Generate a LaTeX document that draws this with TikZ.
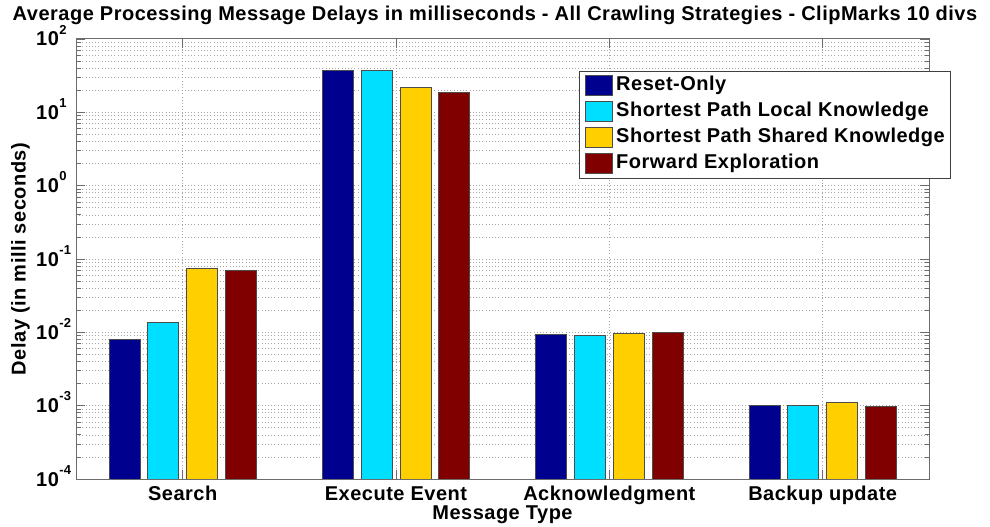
\documentclass[tikz,border=0pt]{standalone}
\usepackage{fontspec}
\setmainfont{Liberation Sans}[LetterSpace=2.5]
\definecolor{cA}{RGB}{0,0,143}
\definecolor{cB}{RGB}{0,223,255}
\definecolor{cC}{RGB}{255,207,0}
\definecolor{cD}{RGB}{128,0,0}
\begin{document}
\begin{tikzpicture}[x=1pt,y=-1pt,
  every node/.style={inner sep=0pt, font=\bfseries\fontsize{20}{24}\selectfont},
  gridline/.style={draw=gray!70, line width=0.6pt, dash pattern=on 1pt off 2.2pt},
  axisline/.style={draw=gray!85!black, line width=1pt},
  tickline/.style={draw=gray!85!black, line width=0.8pt},
  barbox/.style={draw=black!70, line width=0.8pt},
  expo/.style={font=\bfseries\fontsize{13}{13}\selectfont}]
\useasboundingbox (0,0) rectangle (990,527);
\fill[white] (0,0) rectangle (990,527);
% horizontal grid
\foreach \d in {0,...,5}{
  \foreach \k in {2,...,9}{
    \pgfmathsetmacro\yy{479-(\d+log10(\k))*73.3333}
    \draw[gridline] (76,\yy) -- (929,\yy);
  }
}
\foreach \d in {1,...,5}{
  \pgfmathsetmacro\yy{479-\d*73.3333}
  \draw[gridline] (76,\yy) -- (929,\yy);
}
% vertical grid
\foreach \c in {182.67,396,609.33,822.67}
  \draw[gridline] (\c,39) -- (\c,479);
% bars
\foreach \c/\ta/\tb/\tc/\td in {182.67/339.3/322.3/268/270, 396/70.7/70.7/87.3/92, 609.33/334/335.7/333.3/332.3, 822.67/405/405/402/406}{
  \draw[barbox, fill=cA] (\c-73.7,479) rectangle (\c-42.7,\ta);
  \draw[barbox, fill=cB] (\c-34.9,479) rectangle (\c-3.9,\tb);
  \draw[barbox, fill=cC] (\c+3.9,479) rectangle (\c+34.9,\tc);
  \draw[barbox, fill=cD] (\c+42.7,479) rectangle (\c+73.7,\td);
}
% axis box
\draw[axisline] (76,39) rectangle (929,479);
% y ticks
\foreach \d in {0,...,6}{
  \pgfmathsetmacro\yy{479-\d*73.3333}
  \draw[tickline] (76,\yy) -- (85,\yy);
  \draw[tickline] (929,\yy) -- (920,\yy);
}
\foreach \d in {0,...,5}{
  \foreach \k in {2,...,9}{
    \pgfmathsetmacro\yy{479-(\d+log10(\k))*73.3333}
    \draw[tickline] (76,\yy) -- (80.5,\yy);
    \draw[tickline] (929,\yy) -- (924.5,\yy);
  }
}
% x ticks
\foreach \c in {182.67,396,609.33,822.67}{
  \draw[tickline] (\c,479) -- (\c,470);
  \draw[tickline] (\c,39) -- (\c,48);
}
% y tick labels
\foreach \e [count=\i from 0] in {-4,-3,-2,-1,0,1,2}{
  \pgfmathsetmacro\yy{479-\i*73.3333}
  \node[anchor=base west] (yl\i) at (36,\yy+7) {10};
  \node[expo, anchor=base west] (ye\i) at (yl\i.base east) [yshift=12pt] {\ifnum\e<0 -\the\numexpr-\e\relax\else\e\fi};
}
% category labels
\node[anchor=base] (cat1) at (182.67,500) {Search};
\node[anchor=base] (cat2) at (396,500) {Execute Event};
\node[anchor=base] (cat3) at (609.33,500) {Acknowledgment};
\node[anchor=base] (cat4) at (822.67,500) {Backup update};
% axis labels and title
\node[anchor=base] (xlab) at (502.5,519) {Message Type};
\node[anchor=base, rotate=90] (ylab) at (25.5,259) {Delay (in milli seconds)};
\node[anchor=base] (title) at (495,20.5) {Average Processing Message Delays in milliseconds - All Crawling Strategies - ClipMarks 10 divs};
% legend
\draw[fill=white, draw=gray!50!black, line width=0.8pt] (579,71.7) rectangle (950,178.3);
\foreach \col/\txt [count=\i from 0] in {cA/Reset-Only, cB/Shortest Path Local Knowledge, cC/Shortest Path Shared Knowledge, cD/Forward Exploration}{
  \pgfmathsetmacro\yt{75.7+\i*25.9}
  \draw[barbox, fill=\col] (585,\yt) rectangle (612.3,\yt+19.5);
  \node[anchor=west] (leg\i) at (616,\yt+9.75) {\txt};
}
\end{tikzpicture}
\end{document}
